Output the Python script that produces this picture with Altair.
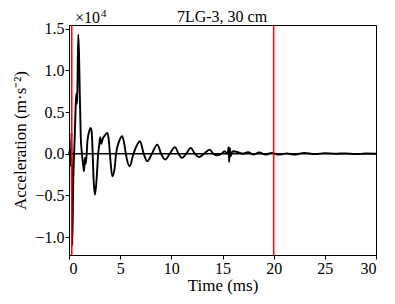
import altair as alt
import pandas as pd

# Signal (time in ms, acceleration in units of 1e4 m/s^2)
time_ms = [0.0, 0.12, 0.18, 0.24, 0.32, 0.42, 0.5, 0.6, 0.7, 0.78, 0.82, 0.9, 0.98,
           1.05, 1.15, 1.25, 1.4, 1.47, 1.55, 1.65, 1.8, 2.0, 2.1, 2.2, 2.3, 2.4,
           2.54, 2.7, 2.85, 2.95, 3.05, 3.15, 3.3, 3.5, 3.75, 3.9, 4.0, 4.23, 4.45,
           4.6, 4.9, 5.2, 5.4, 5.55, 5.93, 6.3, 6.94, 7.3, 7.65, 8.1, 8.63, 9.0,
           9.4, 9.85, 10.36, 10.7, 11.05, 11.45, 11.9, 12.3, 12.7, 13.2, 13.75,
           14.1, 14.5, 14.9, 15.2, 15.5, 15.6, 15.65, 15.72, 15.8, 16.0, 16.5,
           17.0, 17.5, 18.0, 18.6, 19.2, 19.8, 20.5, 21.3, 22.0, 23.0, 24.0,
           25.0, 26.0, 27.0, 28.0, 29.0, 30.0]
accel = [0.0, 0.05, -0.15, 0.25, -1.10, -0.3, 0.0, 0.35, 0.72, 0.6, 0.75, 1.43, 1.2,
         0.75, 0.2, 0.02, -0.15, -0.21, -0.05, -0.12, 0.15, 0.28, 0.31, 0.28, 0.05, -0.3,
         -0.49, -0.3, 0.0, 0.1, 0.2, 0.12, 0.18, 0.22, 0.25, 0.15, 0.0, -0.27, -0.18,
         0.0, 0.15, 0.21, 0.12, 0.0, -0.15, 0.0, 0.15, 0.0, -0.09, 0.0, 0.11, 0.0,
         -0.07, 0.0, 0.08, 0.0, -0.05, 0.0, 0.07, 0.0, -0.04, 0.0, 0.05,
         0.0, -0.02, 0.0, 0.03, 0.0, 0.08, -0.1, 0.07, -0.03, 0.03, 0.02,
         0.0, 0.02, -0.01, 0.015, -0.01, 0.01, -0.01, 0.005, -0.01, 0.01, -0.005,
         0.008, 0.0, 0.005, -0.005, 0.003, 0.0]

red_lines = [0.27, 20.0]
x_ticks = [0, 5, 10, 15, 20, 25, 30]
y_ticks = [-1.0, -0.5, 0.0, 0.5, 1.0, 1.5]
title_text = "7LG-3, 30 cm"

sig = pd.DataFrame({"t": time_ms, "a": accel})
reds = pd.DataFrame({"t": red_lines})
zero = pd.DataFrame({"y": [0.0]})

FONT = "Liberation Serif, Times New Roman, serif"
xscale = alt.Scale(domain=[0, 30], nice=False, zero=False)
yscale = alt.Scale(domain=[-1.215, 1.545], nice=False, zero=False)

xaxis = alt.Axis(title="Time (ms)", values=x_ticks, format="d", grid=False,
                 tickSize=4, labelPadding=1, titlePadding=1,
                 labelFont=FONT, titleFont=FONT, labelFontSize=16, titleFontSize=17)
yaxis = alt.Axis(title="Acceleration (m·s⁻²)", values=y_ticks, format=".1f",
                 grid=False, tickSize=4, labelPadding=1, titlePadding=5,
                 labelFont=FONT, titleFont=FONT, labelFontSize=16, titleFontSize=17)

line = alt.Chart(sig).mark_line(color="black", strokeWidth=1.9, interpolate="monotone").encode(
    x=alt.X("t:Q", scale=xscale, axis=xaxis),
    y=alt.Y("a:Q", scale=yscale, axis=yaxis),
)

hline = alt.Chart(zero).mark_rule(color="black", strokeWidth=1.3).encode(
    y=alt.Y("y:Q", scale=yscale)
)

vlines = alt.Chart(reds).mark_rule(color="#ff0000", strokeWidth=1.5).encode(
    x=alt.X("t:Q", scale=xscale)
)

exp_label = alt.Chart(pd.DataFrame({"s": ["×10"]})).mark_text(
    font=FONT, fontSize=16, align="left", baseline="alphabetic", color="black"
).encode(text="s:N", x=alt.value(6), y=alt.value(-2))
exp_sup = alt.Chart(pd.DataFrame({"s": ["4"]})).mark_text(
    font=FONT, fontSize=11, align="left", baseline="alphabetic", color="black"
).encode(text="s:N", x=alt.value(32), y=alt.value(-8))

title = alt.Chart(pd.DataFrame({"s": [title_text]})).mark_text(
    font=FONT, fontSize=16, align="center", baseline="alphabetic", color="black"
).encode(text="s:N", x=alt.value(153), y=alt.value(-3))

chart = alt.layer(hline, line, vlines, exp_label, exp_sup, title).properties(
    width=307, height=230,
    autosize=alt.AutoSizeParams(type="none"),
    padding={"left": 61, "top": 17, "right": 10, "bottom": 40},
).configure_axis(
    labelFont=FONT, titleFont=FONT, labelFontSize=16, titleFontSize=17,
    titleFontWeight="normal", labelColor="black", titleColor="black",
    domainColor="black", tickColor="black", domainWidth=1, tickWidth=1,
).configure_text(font=FONT).configure_view(stroke="black", strokeWidth=1)

chart.save("out.html", embed_options={"renderer": "svg", "actions": False})
